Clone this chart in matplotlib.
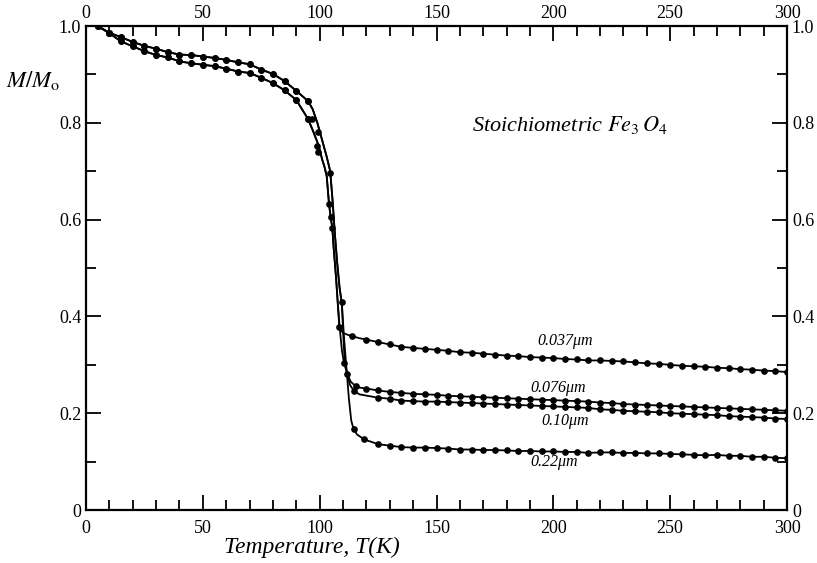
import numpy as np
import matplotlib
matplotlib.use('Agg')
import matplotlib.pyplot as plt
from matplotlib.ticker import MultipleLocator, FixedLocator, FuncFormatter

plt.rcParams['font.family'] = 'Liberation Serif'
plt.rcParams['mathtext.fontset'] = 'stix'

# low temperature part, shared by two sizes each
t_low = [5, 10, 15, 20, 25, 30, 35, 40, 45, 50, 55, 60, 65, 70, 75, 80, 85, 90, 95]
m_upper_low = [1.0, 0.986, 0.977, 0.967, 0.959, 0.953, 0.946, 0.941, 0.940, 0.937,
               0.934, 0.930, 0.925, 0.921, 0.910, 0.901, 0.886, 0.866, 0.845]
m_lower_low = [1.0, 0.985, 0.968, 0.958, 0.948, 0.940, 0.935, 0.927, 0.923, 0.920,
               0.917, 0.912, 0.906, 0.903, 0.893, 0.882, 0.867, 0.847, 0.808]

# steep drop, line only (right line = upper curve, left line = lower curve)
t_drop_r = [97, 99, 101, 103, 104.5, 105.5, 106.5, 107.5, 108.5, 109.5]
m_drop_r = [0.828, 0.800, 0.765, 0.730, 0.700, 0.640, 0.570, 0.510, 0.460, 0.425]
t_drop_l = [97, 99, 100, 101, 102, 103, 104, 104.7, 105.4, 106, 107, 107.6]
m_drop_l = [0.785, 0.760, 0.745, 0.725, 0.710, 0.690, 0.632, 0.605, 0.583, 0.540, 0.480, 0.437]

# measured points seen along the steep drop
t_drop_pts = [96.6, 99.4, 99, 99.3, 104.3, 104, 104.7, 105.4, 109.7, 108.3]
m_drop_pts = [0.807, 0.780, 0.752, 0.739, 0.696, 0.632, 0.605, 0.583, 0.429, 0.379]

t_tail = [120, 125, 130, 135, 140, 145, 150, 155, 160, 165, 170, 175, 180, 185, 190,
          195, 200, 205, 210, 215, 220, 225, 230, 235, 240, 245, 250, 255, 260, 265,
          270, 275, 280, 285, 290, 295, 300]

# 0.037 um
t_037_knee = [108.3, 109, 110, 112, 114, 117]
m_037_knee = [0.385, 0.372, 0.366, 0.362, 0.359, 0.355]
m_037_tail = [0.352, 0.347, 0.342, 0.337, 0.335, 0.333, 0.331, 0.329, 0.326, 0.325,
              0.323, 0.321, 0.319, 0.318, 0.316, 0.315, 0.314, 0.312, 0.311, 0.309,
              0.309, 0.308, 0.307, 0.305, 0.303, 0.302, 0.300, 0.298, 0.297, 0.296,
              0.294, 0.293, 0.291, 0.290, 0.288, 0.287, 0.285]

# 0.076 um
t_076_knee = [108.5, 109.5, 110.4, 111.9, 113.3, 115.4, 117]
m_076_knee = [0.38, 0.33, 0.304, 0.280, 0.265, 0.256, 0.253]
m_076_tail = [0.251, 0.247, 0.244, 0.242, 0.240, 0.239, 0.238, 0.236, 0.235, 0.234,
              0.233, 0.232, 0.231, 0.230, 0.229, 0.228, 0.227, 0.226, 0.225, 0.224,
              0.222, 0.221, 0.219, 0.218, 0.217, 0.216, 0.215, 0.214, 0.213, 0.212,
              0.211, 0.210, 0.209, 0.208, 0.207, 0.206, 0.205]

# 0.10 um
t_10_knee = [110.3, 110.8, 112, 113, 114.7, 117]
m_10_knee = [0.34, 0.304, 0.275, 0.258, 0.246, 0.239]
m_10_tail = [0.235, 0.232, 0.230, 0.226, 0.225, 0.224, 0.224, 0.223, 0.222, 0.221,
             0.220, 0.219, 0.218, 0.217, 0.216, 0.215, 0.214, 0.213, 0.212, 0.211,
             0.208, 0.207, 0.205, 0.204, 0.203, 0.202, 0.200, 0.199, 0.198, 0.197,
             0.196, 0.194, 0.193, 0.192, 0.191, 0.189, 0.188]

# 0.22 um
t_22_knee = [110.5, 111.5, 112.5, 113.5, 114.5, 116, 119]
m_22_knee = [0.350, 0.290, 0.230, 0.185, 0.167, 0.156, 0.146]
m_22_tail = [0.140, 0.136, 0.133, 0.130, 0.129, 0.129, 0.128, 0.127, 0.125, 0.125,
             0.124, 0.124, 0.123, 0.122, 0.122, 0.121, 0.121, 0.120, 0.120, 0.118,
             0.119, 0.119, 0.118, 0.118, 0.117, 0.117, 0.116, 0.115, 0.114, 0.113,
             0.114, 0.112, 0.112, 0.110, 0.110, 0.108, 0.107]

# which knee points carry a dot in the figure
knee_dots = {'0.037': [4], '0.076': [2, 3, 5], '0.10': [4], '0.22': [4, 6]}

x_ticks = [0, 50, 100, 150, 200, 250, 300]

curves = {
    '0.037': (t_low, m_lower_low, t_drop_l, m_drop_l, t_037_knee, m_037_knee, t_tail, m_037_tail),
    '0.076': (t_low, m_lower_low, t_drop_l, m_drop_l, t_076_knee, m_076_knee, t_tail, m_076_tail),
    '0.10': (t_low, m_upper_low, t_drop_r, m_drop_r, t_10_knee, m_10_knee, t_tail[1:], m_10_tail[1:]),
    '0.22': (t_low, m_upper_low, t_drop_r, m_drop_r, t_22_knee, m_22_knee, t_tail[1:], m_22_tail[1:]),
}

fig = plt.figure(figsize=(8.17, 5.63), dpi=100)
ax = fig.add_axes([0.1053, 0.0941, 0.858, 0.8597])

for name, (tl, ml, td, md, tk, mk, tt, mt) in curves.items():
    ax.plot(tl + td + tk + tt, ml + md + mk + mt, '-', color='black', lw=1.3)
    tk_dot = [tk[i] for i in knee_dots[name]]
    mk_dot = [mk[i] for i in knee_dots[name]]
    ax.plot(tl + tk_dot + tt, ml + mk_dot + mt, 'o', color='black', ms=3.8)
ax.plot(t_drop_pts, m_drop_pts, 'o', color='black', ms=3.8)

ax.set_xlim(0, 300)
ax.set_ylim(0, 1.0)
ax.xaxis.set_major_locator(FixedLocator(x_ticks))
ax.xaxis.set_minor_locator(MultipleLocator(10))
ax.yaxis.set_major_locator(MultipleLocator(0.2))
ax.yaxis.set_minor_locator(MultipleLocator(0.1))
ax.yaxis.set_major_formatter(FuncFormatter(lambda v, p: '0' if abs(v) < 1e-9 else '%.1f' % v))
ax.tick_params(which='both', direction='in', top=True, right=True,
               labeltop=False, labelright=True, labelsize=13, width=1.3)
ax.tick_params(which='major', length=11)
ax.tick_params(which='minor', length=7)
ax.tick_params(axis='x', which='major', pad=7)
for s in ax.spines.values():
    s.set_linewidth(1.6)

# top labels sit closer to the frame than the bottom ones
top = ax.secondary_xaxis('top')
top.set_xticks(x_ticks)
top.tick_params(length=0, pad=3, labelsize=13)
top.spines['top'].set_visible(False)

ax.set_xlabel('Temperature, T(K)', fontsize=17, style='italic', labelpad=1)
ax.xaxis.set_label_coords(0.322, -0.055)
ax.text(-0.076, 0.888, r'$M/M_{\mathrm{o}}$', transform=ax.get_yaxis_transform(),
        fontsize=16.5, ha='center', va='center')

ax.text(207, 0.795, r'Stoichiometric $Fe_3\,O_4$', fontsize=16, style='italic',
        ha='center', va='center')
ax.text(205, 0.349, '0.037\u03bcm', fontsize=11.5, style='italic', ha='center', va='center')
ax.text(202, 0.253, '0.076\u03bcm', fontsize=11.5, style='italic', ha='center', va='center')
ax.text(205, 0.183, '0.10\u03bcm', fontsize=11.5, style='italic', ha='center', va='center')
ax.text(200.5, 0.099, '0.22\u03bcm', fontsize=11.5, style='italic', ha='center', va='center')

fig.savefig('out.png', dpi=100)
